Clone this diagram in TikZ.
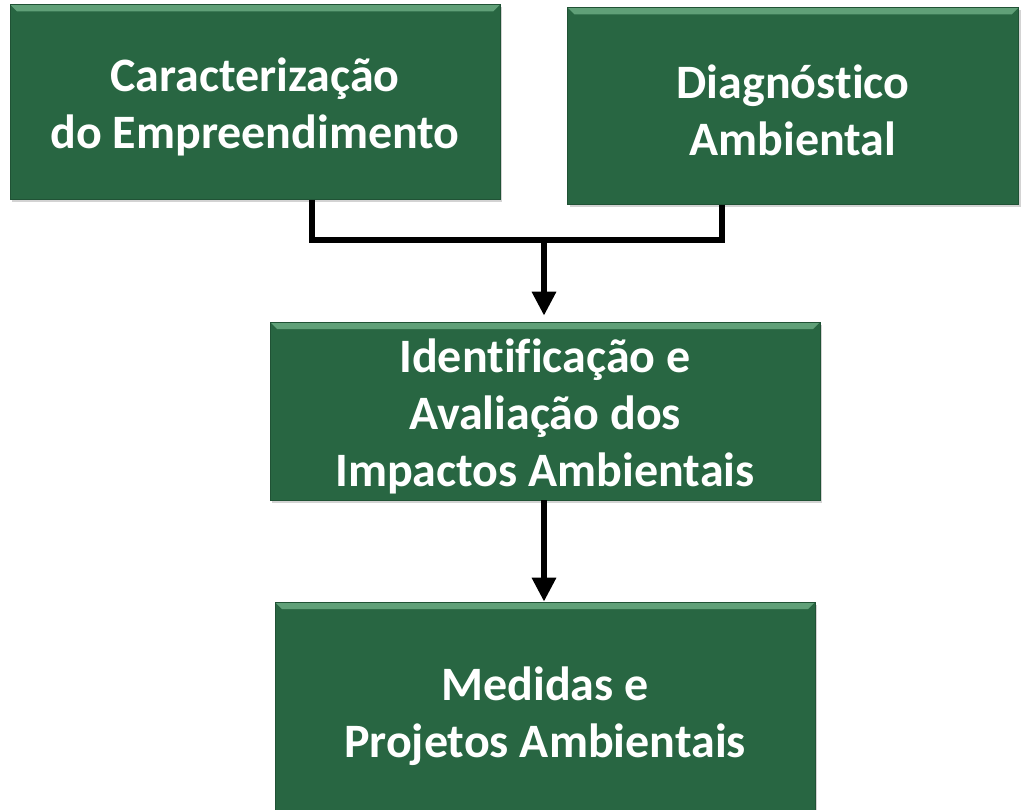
\documentclass[tikz,border=0pt]{standalone}
\usepackage{fontspec}
\setmainfont{Carlito}[Ligatures=NoCommon]
\usetikzlibrary{arrows.meta,shadows}
\definecolor{boxgreen}{RGB}{40,102,66}
\definecolor{bevelgreen}{RGB}{96,160,120}
\tikzset{
  stagebox/.style={fill=boxgreen, draw=boxgreen!80!black, line width=0.6pt,
    drop shadow={shadow xshift=2pt, shadow yshift=-3pt, opacity=0.35},
    path picture={\fill[bevelgreen] (path picture bounding box.north west) -- (path picture bounding box.north east)
      -- ([xshift=-7pt,yshift=-7pt]path picture bounding box.north east) -- ([xshift=7pt,yshift=-7pt]path picture bounding box.north west) -- cycle;}},
  stagetext/.style={text=white, font=\fontsize{48}{57}\selectfont\bfseries, align=center},
  link/.style={line width=6pt, black, line join=miter},
  flow/.style={link, -{Triangle[length=24pt,width=23pt]}}
}
\begin{document}
\begin{tikzpicture}[x=1pt,y=-1pt]
    \useasboundingbox (0,0) rectangle (1022,810);
        \node[stagebox, minimum width=490pt, minimum height=195pt] (cara) at (255, 102) {};
        \node[stagebox, minimum width=451pt, minimum height=197pt] (diag) at (793, 106) {};
        \node[stagebox, minimum width=550pt, minimum height=178pt] (iden) at (545, 411) {};
        \node[stagebox, minimum width=540pt, minimum height=220pt] (medi) at (545, 712) {};
        \node[stagetext] (caraText) at ([yshift=-5pt]cara.center) {Caracterização\\do Empreendimento};
        \node[stagetext] (diagText) at ([yshift=-4pt]diag.center) {Diagnóstico\\Ambiental};
        \node[stagetext] (idenText) at ([yshift=-5pt]iden.center) {Identificação e\\Avaliação dos\\Impactos Ambientais};
        \node[stagetext] (mediText) at ([yshift=-4pt]medi.center) {Medidas e\\Projetos Ambientais};
        \coordinate (jl) at (312, 240);
        \coordinate (jr) at (722, 240);
        \coordinate (jm) at (544, 240);
        \draw [link] (cara.south -| jl) -- (jl) -- (jr) -- (diag.south -| jr);
        \draw [flow] (jm) -- ([yshift=6pt]iden.north -| jm);
        \draw [flow] (iden.south -| jm) -- (medi.north -| jm);
    \end{tikzpicture}
\end{document}
